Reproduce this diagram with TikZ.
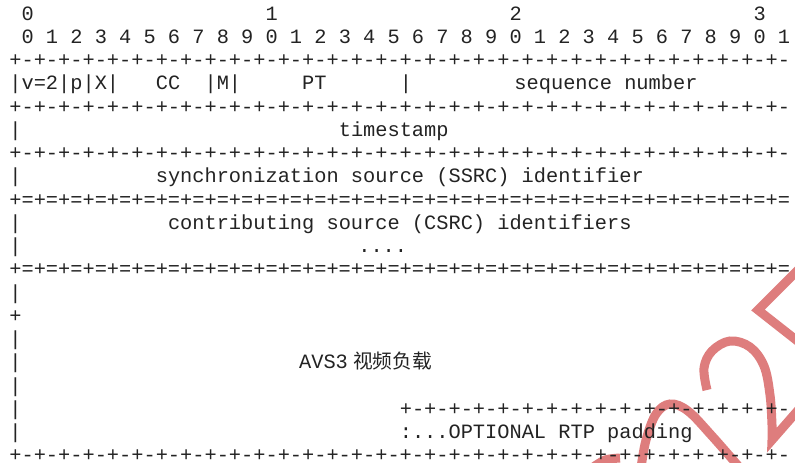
\documentclass[tikz,border=0pt]{standalone}
\usepackage{fontspec}
\newfontfamily\monofnt{Liberation Mono}
\newfontfamily\cjkfnt{Noto Sans CJK SC}
\definecolor{wm}{RGB}{222,125,125}
\definecolor{txt}{RGB}{35,35,35}
\newcommand\Lt[5][]{\node[cellt,#1] (#2) at ({9.4+12.2*(#4)},{-20-23.25*((#3)-1)}) {#5};}
\newcommand\fullplus{+-+-+-+-+-+-+-+-+-+-+-+-+-+-+-+-+-+-+-+-+-+-+-+-+-+-+-+-+-+-+-+-}
\newcommand\fulleq{+=+=+=+=+=+=+=+=+=+=+=+=+=+=+=+=+=+=+=+=+=+=+=+=+=+=+=+=+=+=+=+=}
\newcommand\halfplus{+-+-+-+-+-+-+-+-+-+-+-+-+-+-+-+-}
\begin{document}
\begin{tikzpicture}[x=1pt,y=1pt,
  every node/.style={inner sep=0pt, outer sep=0pt, text=txt,
    font=\monofnt\fontsize{20.33}{24}\selectfont},
  cellt/.style={anchor=base west},
  wmark/.style={draw=wm, line width=9pt, line cap=butt, line join=miter}]
\fill[white] (0,0) rectangle (795,-463);
\useasboundingbox (0,0) rectangle (795,-463);
% watermark
\draw[wmark] plot[smooth, tension=0.6] coordinates {(641,-468) (646,-440) (656,-414) (670,-404) (688,-411) (712,-436) (740,-468)};
\draw[wmark] plot[smooth, tension=0.5] coordinates {(592,-468) (605,-460) (620,-458)};
\draw[wmark] plot[smooth, tension=0.6] coordinates {(707,-390) (704,-368) (712,-351) (730,-341) (750,-347) (764,-366) (770,-395) (772,-425) (772,-440)} -- (800,-408);
\draw[wmark] (800,-268) -- (758,-310) -- (800,-343);
% header
\Lt{h0}{1}{1}{0}
\Lt{h1}{1}{21}{1}
\Lt{h2}{1}{41}{2}
\Lt{h3}{1}{61}{3}
\Lt{bits}{2}{1}{0 1 2 3 4 5 6 7 8 9 0 1 2 3 4 5 6 7 8 9 0 1 2 3 4 5 6 7 8 9 0 1}
\Lt{s3}{3}{0}{\fullplus}
% row 4
\Lt{vpx}{4}{0}{|v=2|p|X|}
\Lt{cc}{4}{12}{CC}
\Lt{m}{4}{16}{|M|}
\Lt{pt}{4}{24}{PT}
\Lt{bar4}{4}{32}{|}
\Lt{seq}{4}{41.4}{sequence number}
\Lt{s5}{5}{0}{\fullplus}
\Lt{bar6}{6}{0}{|}
\Lt{ts}{6}{27}{timestamp}
\Lt{s7}{7}{0}{\fullplus}
\Lt{bar8}{8}{0}{|}
\Lt{ssrc}{8}{12}{synchronization source (SSRC) identifier}
\Lt{s9}{9}{0}{\fulleq}
\Lt{bar10}{10}{0}{|}
\Lt{csrc}{10}{13}{contributing source (CSRC) identifiers}
\Lt{bar11}{11}{0}{|}
\Lt{dots}{11}{28.6}{....}
\Lt{s12}{12}{0}{\fulleq}
\Lt{bar13}{13}{0}{|}
\Lt{p14}{14}{0}{+}
\Lt{bar15}{15}{0}{|}
\Lt{bar16}{16}{0}{|}
\Lt{avs}{16}{23.75}{AVS3}
\node[anchor=base] (cn) at (392.5,{-20-23.25*15}) {\cjkfnt\fontsize{19.7}{24}\selectfont 视频负载};
\Lt{bar17}{17}{0}{|}
\Lt{bar18}{18}{0}{|}
\Lt{s18}{18}{32}{\halfplus}
\Lt{bar19}{19}{0}{|}
\Lt{pad}{19}{32}{:...OPTIONAL RTP padding}
\Lt[text depth=0pt]{s20}{20}{0}{\fullplus}
\end{tikzpicture}
\end{document}
